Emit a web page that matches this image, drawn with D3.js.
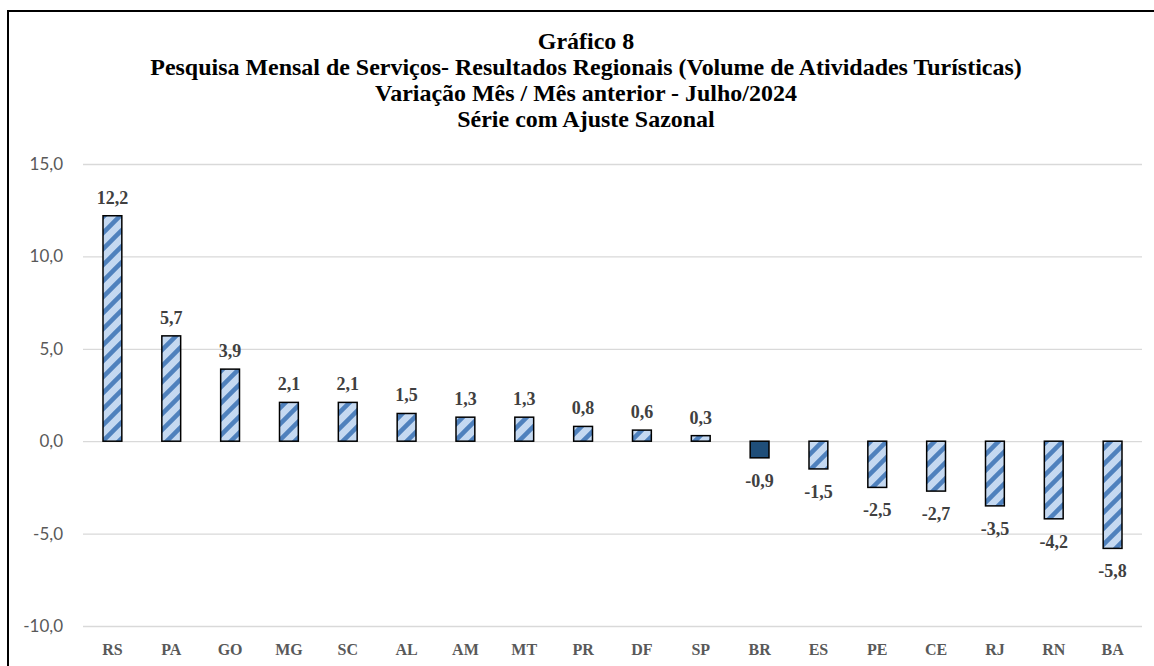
<!DOCTYPE html>
<html>
<head>
<meta charset="utf-8">
<script src="https://cdn.jsdelivr.net/npm/d3@7"></script>
<style>
  html, body { margin: 0; padding: 0; background: #fff; }
  svg { display: block; }
</style>
</head>
<body>
<figure id="grafico" style="margin:0"></figure>
<script>
// data
const categories = ['RS', 'PA', 'GO', 'MG', 'SC', 'AL', 'AM', 'MT', 'PR', 'DF', 'SP', 'BR', 'ES', 'PE', 'CE', 'RJ', 'RN', 'BA'];
const values = [12.2, 5.7, 3.9, 2.1, 2.1, 1.5, 1.3, 1.3, 0.8, 0.6, 0.3, -0.9, -1.5, -2.5, -2.7, -3.5, -4.2, -5.8];
const yTicks = [-10, -5, 0, 5, 10, 15];
const titleLines = [
  'Gráfico 8',
  'Pesquisa Mensal de Serviços- Resultados Regionais (Volume de Atividades Turísticas)',
  'Variação Mês / Mês anterior - Julho/2024',
  'Série com Ajuste Sazonal'
];
const highlight = 'BR';

const W = 1154, H = 666;
const plotLeft = 83, plotRight = 1142, plotTop = 164, plotBottom = 626;
const serif = '"Liberation Serif", "DejaVu Serif", serif';
// pt-BR style: comma decimal, plain hyphen for minus
const comma = v => d3.format('.1f')(v).replace('.', ',').replace('\u2212', '-');

const svg = d3.select('figure#grafico')
  .append('svg')
  .attr('width', W)
  .attr('height', H);

// hatch pattern
const defs = svg.append('defs');
const pat = defs.append('pattern')
  .attr('id', 'hatch')
  .attr('patternUnits', 'userSpaceOnUse')
  .attr('width', 16)
  .attr('height', 16);
pat.append('rect').attr('width', 16).attr('height', 16).attr('fill', '#c5d9f1');
pat.append('path')
  .attr('d', 'M-4,4 L4,-4 M0,16 L16,0 M12,20 L20,12')
  .attr('stroke', '#4f81bd')
  .attr('stroke-width', 4.5);

// outer frame
svg.append('rect')
  .attr('x', 8).attr('y', 11)
  .attr('width', 1170).attr('height', 700)
  .attr('fill', 'none')
  .attr('stroke', '#000')
  .attr('stroke-width', 2);

// title
const title = svg.append('g')
  .attr('font-family', serif)
  .attr('font-weight', 'bold')
  .attr('fill', '#000')
  .attr('text-anchor', 'middle');
const baselines = [49, 75, 101, 127];
const tl = title.selectAll('text')
  .data(titleLines)
  .enter()
  .append('text')
  .attr('x', 586)
  .attr('y', (d, i) => baselines[i])
  .attr('font-size', 20)
  .text(d => d);
// fit the long line to its width in the picture
const measured = tl.nodes()[1].getComputedTextLength();
tl.attr('font-size', 20 * 872 / measured);

// scales
const x = d3.scaleBand()
  .domain(categories)
  .range([plotLeft, plotRight])
  .paddingInner(0.68)
  .paddingOuter(0.34);

const y = d3.scaleLinear()
  .domain([-10, 15])
  .range([plotBottom, plotTop]);

// y axis with gridlines
const yAxis = svg.append('g')
  .attr('transform', 'translate(' + plotLeft + ',0)')
  .call(d3.axisLeft(y)
    .tickValues(yTicks)
    .tickSize(-(plotRight - plotLeft))
    .tickPadding(20)
    .tickFormat(comma));
yAxis.select('.domain').remove();
yAxis.selectAll('line').attr('stroke', '#d9d9d9').attr('stroke-width', 1.3);
yAxis.selectAll('text')
  .attr('fill', '#595959')
  .attr('font-family', 'Lato, "Open Sans", sans-serif')
  .attr('font-size', 17);

// x axis labels
const xAxis = svg.append('g')
  .attr('transform', 'translate(0,' + plotBottom + ')')
  .call(d3.axisBottom(x).tickSize(0).tickPadding(18));
xAxis.select('.domain').remove();
xAxis.selectAll('text')
  .attr('fill', '#595959')
  .attr('font-family', serif)
  .attr('font-weight', 'bold')
  .attr('font-size', 16);

const data = categories.map((c, i) => ({ cat: c, value: values[i] }));

// bars
svg.selectAll('.bar')
  .data(data)
  .enter()
  .append('rect')
  .attr('class', 'bar')
  .attr('x', d => x(d.cat))
  .attr('y', d => y(Math.max(0, d.value)))
  .attr('width', x.bandwidth())
  .attr('height', d => Math.abs(y(d.value) - y(0)))
  .attr('fill', d => d.cat === highlight ? '#1f4e79' : 'url(#hatch)')
  .attr('stroke', '#000')
  .attr('stroke-width', 1.5);

// data labels
svg.selectAll('.lbl')
  .data(data)
  .enter()
  .append('text')
  .attr('class', 'lbl')
  .attr('x', d => x(d.cat) + x.bandwidth() / 2)
  .attr('y', d => d.value >= 0 ? y(d.value) - 12 : y(d.value) + 29)
  .attr('text-anchor', 'middle')
  .attr('font-family', serif)
  .attr('font-weight', 'bold')
  .attr('font-size', 18)
  .attr('fill', '#404040')
  .text(d => comma(d.value));
</script>
</body>
</html>
